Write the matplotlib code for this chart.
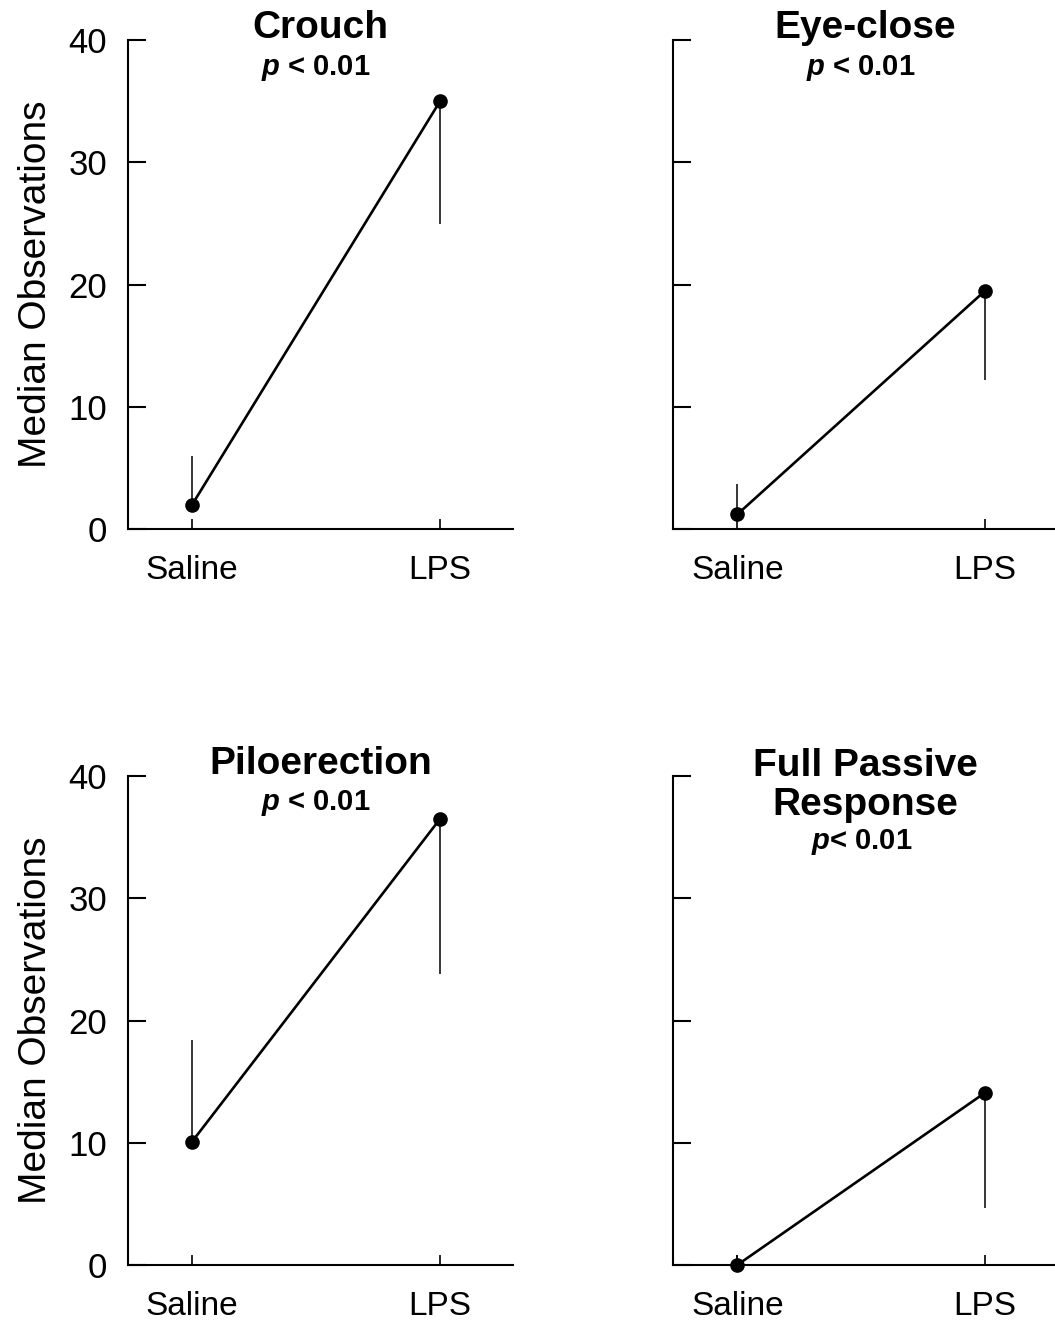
import matplotlib
matplotlib.use("Agg")
import matplotlib.pyplot as plt

plt.rcParams["font.family"] = ["Liberation Sans", "DejaVu Sans"]
plt.rcParams["mathtext.fontset"] = "custom"
plt.rcParams["mathtext.it"] = "Liberation Sans:italic:bold"
plt.rcParams["mathtext.rm"] = "Liberation Sans:bold"

groups = ["Saline", "LPS"]
titles = ["Crouch", "Eye-close", "Piloerection", "Full Passive\nResponse"]
p_labels = ["$p$ < 0.01", "$p$ < 0.01", "$p$ < 0.01", "$p$< 0.01"]

# medians and one-sided spread (Saline goes up, LPS goes down)
medians = [[2, 35], [1.2, 19.5], [10.1, 36.5], [0, 14.1]]
err_up = [[4, 0], [2.5, 0], [8.3, 0], [0.8, 0]]
err_down = [[0, 10], [0, 7.3], [0, 12.7], [0, 9.4]]

fig = plt.figure(figsize=(10.55, 13.21), dpi=100)

# axes boxes in figure fractions
boxes = [
    [0.1213, 0.5995, 0.365, 0.370],
    [0.638, 0.5995, 0.365, 0.370],
    [0.1213, 0.0424, 0.365, 0.370],
    [0.638, 0.0424, 0.365, 0.370],
]

for i, box in enumerate(boxes):
    ax = fig.add_axes(box)
    x = list(range(len(groups)))
    ax.errorbar(x, medians[i], yerr=[err_down[i], err_up[i]], fmt="none",
                ecolor="black", elinewidth=1.1, capsize=0, zorder=2)
    ax.plot(x, medians[i], color="black", linewidth=1.9, marker="o",
            markersize=9.5, zorder=3, clip_on=False)

    ax.set_xlim(-0.259, 1.295)
    ax.set_ylim(0, 40)
    ax.set_yticks([0, 10, 20, 30, 40])
    ax.set_xticks(x)
    ax.set_xticklabels(groups)

    for side in ["top", "right"]:
        ax.spines[side].set_visible(False)
    for side in ["left", "bottom"]:
        ax.spines[side].set_linewidth(1.5)

    ax.tick_params(axis="y", direction="in", length=13, width=1.5, labelsize=25, pad=15)
    ax.tick_params(axis="x", direction="in", length=7, width=1.2, labelsize=24, pad=18.5)

    if i % 2 == 0:
        ax.set_ylabel("Median Observations", fontsize=28, labelpad=10)
    else:
        ax.set_yticklabels([])

    # titles sit inside the top of each panel
    if i == 3:
        ax.text(0.5, 1.0, "Full Passive", transform=ax.transAxes, ha="center",
                va="baseline", fontsize=28, fontweight="bold")
        ax.text(0.5, 0.92, "Response", transform=ax.transAxes, ha="center",
                va="baseline", fontsize=28, fontweight="bold")
        ax.text(0.49, 0.852, p_labels[i], transform=ax.transAxes, ha="center",
                va="baseline", fontsize=21, fontweight="bold")
    else:
        ax.text(0.5, 1.004, titles[i], transform=ax.transAxes, ha="center",
                va="baseline", fontsize=28, fontweight="bold")
        ax.text(0.488, 0.93, p_labels[i], transform=ax.transAxes, ha="center",
                va="baseline", fontsize=21, fontweight="bold")

fig.savefig("out.png", dpi=100)
